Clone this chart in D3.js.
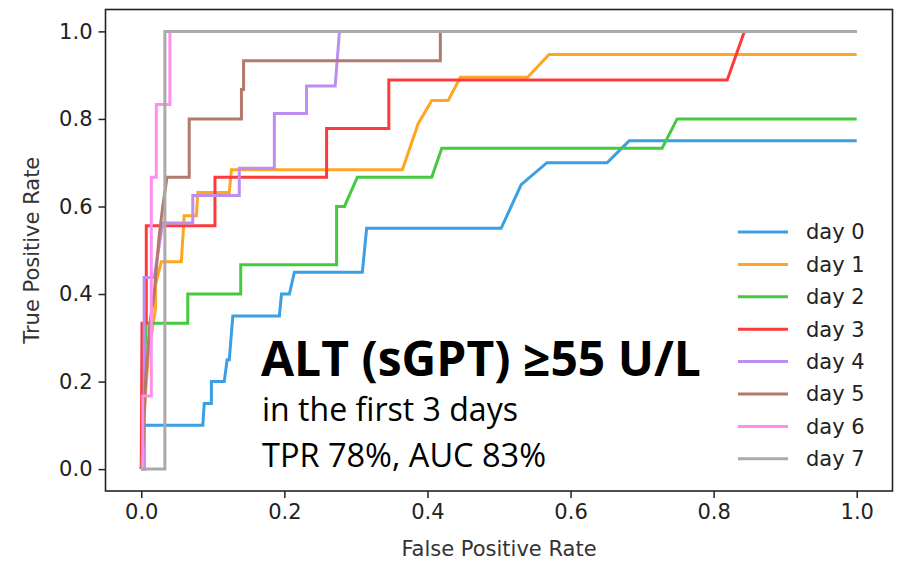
<!DOCTYPE html>
<html>
<head>
<meta charset="utf-8">
<script src="https://cdn.jsdelivr.net/npm/d3@7/dist/d3.min.js"></script>
<style>
  html, body { margin: 0; padding: 0; background: #fff; }
  svg { display: block; }
</style>
</head>
<body>
<svg id="chart" width="897" height="562"></svg>
<script>
// ---------- data ----------
const seriesNames = ["day 0", "day 1", "day 2", "day 3", "day 4", "day 5", "day 6", "day 7"];
const seriesColors = ["#3a9fe4", "#ffa620", "#45c940", "#ff3a3a", "#bf8cf0", "#b27a6c", "#ff8ef0", "#aaaaaa"];

const fprDay0 = [0, 0.004, 0.004, 0.086, 0.088, 0.098, 0.098, 0.116, 0.12, 0.123, 0.128, 0.193, 0.196, 0.207, 0.214, 0.309, 0.315, 0.503, 0.531, 0.567, 0.651, 0.682, 1.0];
const tprDay0 = [0, 0, 0.10, 0.10, 0.15, 0.15, 0.20, 0.20, 0.25, 0.25, 0.35, 0.35, 0.40, 0.40, 0.45, 0.45, 0.55, 0.55, 0.65, 0.70, 0.70, 0.75, 0.75];

const fprDay1 = [0, 0.003, 0.010, 0.020, 0.020, 0.028, 0.056, 0.058, 0.060, 0.077, 0.079, 0.123, 0.126, 0.365, 0.387, 0.406, 0.429, 0.446, 0.540, 0.570, 1.0];
const tprDay1 = [0, 0.105, 0.263, 0.368, 0.421, 0.474, 0.474, 0.526, 0.579, 0.579, 0.632, 0.632, 0.684, 0.684, 0.789, 0.842, 0.842, 0.895, 0.895, 0.947, 0.947];

const fprDay2 = [0, 0.003, 0.007, 0.065, 0.065, 0.139, 0.139, 0.273, 0.273, 0.284, 0.302, 0.406, 0.420, 0.728, 0.749, 1.0];
const tprDay2 = [0, 0.200, 0.333, 0.333, 0.400, 0.400, 0.467, 0.467, 0.600, 0.600, 0.667, 0.667, 0.733, 0.733, 0.800, 0.800];

const fprDay3 = [0, 0.001, 0.007, 0.007, 0.103, 0.103, 0.259, 0.259, 0.346, 0.346, 0.819, 0.843, 1.0];
const tprDay3 = [0, 0.333, 0.333, 0.556, 0.556, 0.667, 0.667, 0.778, 0.778, 0.889, 0.889, 1.0, 1.0];

const fprDay4 = [0, 0.004, 0.004, 0.018, 0.030, 0.072, 0.072, 0.137, 0.137, 0.186, 0.186, 0.231, 0.231, 0.271, 0.277, 1.0];
const tprDay4 = [0, 0, 0.4375, 0.4375, 0.5625, 0.5625, 0.625, 0.625, 0.6875, 0.6875, 0.8125, 0.8125, 0.875, 0.875, 1.0, 1.0];

const fprDay5 = [0, 0.003, 0.006, 0.012, 0.018, 0.025, 0.030, 0.036, 0.067, 0.067, 0.140, 0.140, 0.143, 0.143, 0.418, 0.418, 1.0];
const tprDay5 = [0, 0.067, 0.200, 0.333, 0.400, 0.533, 0.600, 0.667, 0.667, 0.800, 0.800, 0.867, 0.867, 0.933, 0.933, 1.0, 1.0];

const fprDay6 = [0, 0.002, 0.002, 0.014, 0.014, 0.021, 0.021, 0.040, 0.040, 1.0];
const tprDay6 = [0, 0, 0.167, 0.167, 0.667, 0.667, 0.833, 0.833, 1.0, 1.0];

const fprDay7 = [0, 0.033, 0.033, 1.0];
const tprDay7 = [0, 0, 1.0, 1.0];

const xTicks = [0.0, 0.2, 0.4, 0.6, 0.8, 1.0];
const yTicks = [0.0, 0.2, 0.4, 0.6, 0.8, 1.0];
const xLabel = "False Positive Rate";
const yLabel = "True Positive Rate";
const noteTitle = "ALT (sGPT) \u226555 U/L";
const noteLines = ["in the first 3 days", "TPR 78%, AUC 83%"];

const fprs = [fprDay0, fprDay1, fprDay2, fprDay3, fprDay4, fprDay5, fprDay6, fprDay7];
const tprs = [tprDay0, tprDay1, tprDay2, tprDay3, tprDay4, tprDay5, tprDay6, tprDay7];

// ---------- chart ----------
const svg = d3.select("#chart");
const L = 105.5, R = 892.5, T = 9.5, B = 491;
const x = d3.scaleLinear().domain([-0.05, 1.05]).range([L, R]);
const y = d3.scaleLinear().domain([-0.05, 1.05]).range([B, T]);
const tickFont = "'DejaVu Sans', sans-serif";
const fs = 21;

svg.append("rect").attr("width", 897).attr("height", 562).attr("fill", "#fff");

const line = d3.line().x(d => x(d[0])).y(d => y(d[1]));
const plot = svg.append("g");
fprs.forEach((f, i) => {
  const pts = f.map((v, j) => [v, tprs[i][j]]);
  plot.append("path")
    .attr("d", line(pts))
    .attr("fill", "none")
    .attr("stroke", seriesColors[i])
    .attr("stroke-width", 3)
    .attr("stroke-linejoin", "miter")
    .attr("stroke-linecap", "butt");
});

// axes
const xAxis = d3.axisBottom(x).tickValues(xTicks).tickFormat(d3.format(".1f")).tickSize(7).tickPadding(6);
const yAxis = d3.axisLeft(y).tickValues(yTicks).tickFormat(d3.format(".1f")).tickSize(7).tickPadding(6);
const gx = svg.append("g").attr("transform", `translate(0,${B})`).call(xAxis);
const gy = svg.append("g").attr("transform", `translate(${L},0)`).call(yAxis);
[gx, gy].forEach(g => {
  g.select(".domain").remove();
  g.selectAll(".tick line").attr("stroke", "#222").attr("stroke-width", 1.5);
  g.selectAll(".tick text").attr("fill", "#222").style("font-family", tickFont).style("font-size", fs + "px");
});

// frame
svg.append("rect").attr("x", L).attr("y", T).attr("width", R - L).attr("height", B - T)
  .attr("fill", "none").attr("stroke", "#222").attr("stroke-width", 1.6);

// axis labels
svg.append("text").attr("x", (L + R) / 2).attr("y", 556)
  .attr("text-anchor", "middle").attr("fill", "#333")
  .style("font-family", tickFont).style("font-size", fs + "px").text(xLabel);
svg.append("text").attr("transform", `translate(39,${(T + B) / 2}) rotate(-90)`)
  .attr("text-anchor", "middle").attr("fill", "#333")
  .style("font-family", tickFont).style("font-size", fs + "px").text(yLabel);

// legend
const leg = svg.append("g");
seriesNames.forEach((n, i) => {
  const yy = 232 + i * 32.4;
  leg.append("line").attr("x1", 738).attr("x2", 788).attr("y1", yy).attr("y2", yy)
    .attr("stroke", seriesColors[i]).attr("stroke-width", 3);
  leg.append("text").attr("x", 806).attr("y", yy).attr("dy", "0.35em")
    .attr("fill", "#222").style("font-family", tickFont).style("font-size", fs + "px").text(n);
});

// annotation (font size fitted to the reference text widths)
const noteFont = "'Open Sans', Lato, sans-serif";
function fitText(sel, target) {
  const base = parseFloat(sel.style("font-size"));
  const w = sel.node().getComputedTextLength();
  if (w > 0) sel.style("font-size", (base * target / w).toFixed(2) + "px");
}
const title = svg.append("text").attr("x", 261).attr("y", 376)
  .attr("fill", "#000").style("font-family", noteFont).style("font-weight", "bold").style("font-size", "40px")
  .text(noteTitle);
fitText(title, 440);
const noteWidths = [256, 284];
noteLines.forEach((t, i) => {
  const s = svg.append("text").attr("x", 262).attr("y", 421 + i * 46)
    .attr("fill", "#000").style("font-family", noteFont).style("font-size", "26px").text(t);
  fitText(s, noteWidths[i]);
});
</script>
</body>
</html>
